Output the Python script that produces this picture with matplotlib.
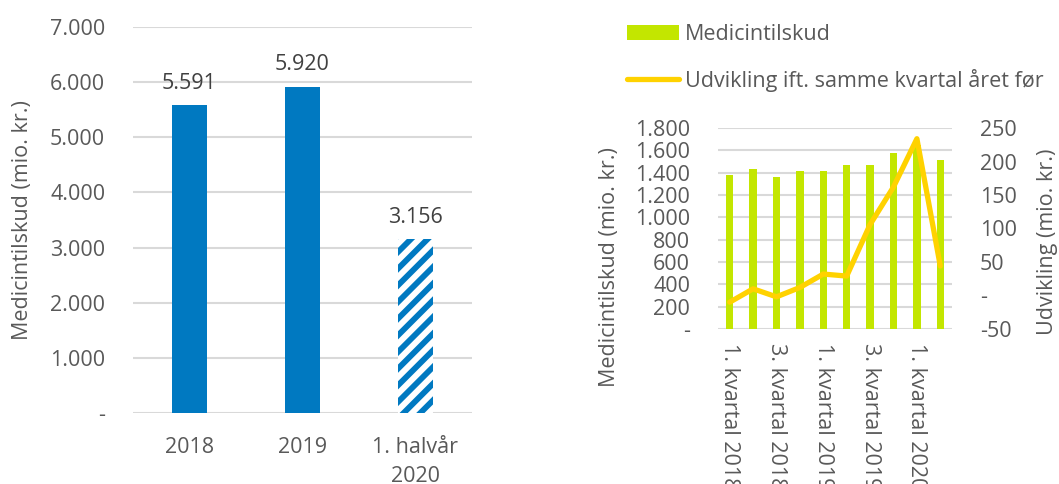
import matplotlib
matplotlib.use("Agg")
import matplotlib.pyplot as plt
from matplotlib.patches import Patch
from matplotlib.lines import Line2D
from matplotlib.ticker import FuncFormatter

plt.rcParams["font.family"] = ["Open Sans", "DejaVu Sans"]
plt.rcParams["hatch.linewidth"] = 4.2

# yearly totals (left chart)
years = ["2018", "2019", "1. halvår\n2020"]
yearly_total = [5591, 5920, 3156]

# quarterly values (right chart)
quarters = [
    "1. kvartal 2018", "2. kvartal 2018", "3. kvartal 2018", "4. kvartal 2018",
    "1. kvartal 2019", "2. kvartal 2019", "3. kvartal 2019", "4. kvartal 2019",
    "1. kvartal 2020", "2. kvartal 2020",
]
quarterly_total = [1380, 1437, 1360, 1414, 1412, 1466, 1466, 1576, 1646, 1510]
change_vs_prev_year = [-10, 10, -2, 12, 32, 29, 106, 162, 234, 44]

BLUE = "#0079C1"
GREEN = "#C3E600"
YELLOW = "#FFD200"
GRID = "#D9D9D9"
TEXT = "#595959"
FS = 15.5
W, H = 1059, 484


def dk_fmt(v, pos=None):
    if v == 0:
        return "-"
    return f"{int(round(v)):,}".replace(",", ".")


def style_axis(ax):
    for s in ax.spines.values():
        s.set_visible(False)
    ax.tick_params(length=0, labelsize=FS, colors=TEXT)
    ax.grid(axis="y", color=GRID, linewidth=1.5)
    ax.set_axisbelow(True)


fig = plt.figure(figsize=(W / 100, H / 100), dpi=100)

# left chart
ax1 = fig.add_axes([133 / W, 1 - 413 / H, 339 / W, 386 / H])
x1 = list(range(len(years)))
ax1.bar(x1[:2], yearly_total[:2], width=0.315, color=BLUE)
ax1.bar(x1[2], yearly_total[2], width=0.315, facecolor="white",
        edgecolor=BLUE, hatch="//", linewidth=0)
ax1.set_xlim(-0.5, 2.5)
ax1.set_ylim(0, 7000)
ax1.set_yticks(range(0, 7001, 1000))
ax1.yaxis.set_major_formatter(FuncFormatter(dk_fmt))
ax1.set_xticks(x1)
ax1.set_xticklabels(years, linespacing=1.5)
style_axis(ax1)
ax1.tick_params(axis="x", pad=17)
ax1.tick_params(axis="y", pad=20)
for xi, v in zip(x1, yearly_total):
    ax1.annotate(dk_fmt(v), (xi, v), xytext=(0, 8), textcoords="offset points",
                 ha="center", va="bottom", fontsize=FS, color="#404040")
fig.text(23 / W, 1 - 220 / H, "Medicintilskud (mio. kr.)", rotation=90,
         ha="center", va="center", fontsize=FS, color=TEXT)

# right chart
ax2 = fig.add_axes([718 / W, 1 - 329 / H, 234 / W, 201 / H])
x2 = list(range(len(quarters)))
ax2.bar(x2, quarterly_total, width=0.31, color=GREEN)
ax2.set_xlim(-0.5, len(quarters) - 0.5)
ax2.set_ylim(0, 1800)
ax2.set_yticks(range(0, 1801, 200))
ax2.yaxis.set_major_formatter(FuncFormatter(dk_fmt))
ax2.set_xticks(x2[::2])
ax2.set_xticklabels(quarters[::2], rotation=270, va="top", ha="center")
style_axis(ax2)
ax2.tick_params(axis="x", pad=10)
ax2.tick_params(axis="y", pad=20)
fig.text(609 / W, 1 - 267 / H, "Medicintilskud (mio. kr.)", rotation=90,
         ha="center", va="center", fontsize=FS, color=TEXT)

ax3 = ax2.twinx()
ax3.plot(x2, change_vs_prev_year, color=YELLOW, linewidth=3.8,
         solid_joinstyle="round", solid_capstyle="round")
ax3.set_ylim(-50, 250)
ax3.set_yticks(range(-50, 251, 50))
ax3.yaxis.set_major_formatter(FuncFormatter(dk_fmt))
for s in ax3.spines.values():
    s.set_visible(False)
ax3.tick_params(length=0, labelsize=FS, colors=TEXT, pad=20)
fig.text(1048 / W, 1 - 242 / H, "Udvikling (mio. kr.)", rotation=90,
         ha="center", va="center", fontsize=FS, color=TEXT)

handles = [
    Patch(facecolor=GREEN, edgecolor="none"),
    Line2D([0], [0], color=YELLOW, linewidth=3.8, solid_capstyle="round"),
]
fig.legend(handles, ["Medicintilskud", "Udvikling ift. samme kvartal året før"],
           loc="upper left", bbox_to_anchor=(627 / W, 1 - 24 / H),
           frameon=False, fontsize=FS, labelcolor=TEXT, handlelength=2.4,
           handleheight=0.65, handletextpad=0.28, labelspacing=1.1,
           borderaxespad=0, borderpad=0)

fig.savefig("out.png", dpi=100)
